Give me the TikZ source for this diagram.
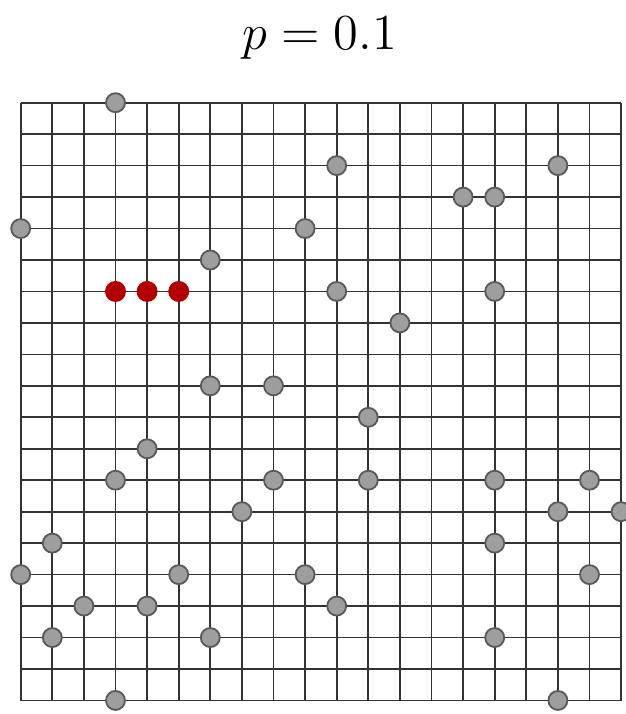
\documentclass[tikz,border=0pt]{standalone}
\begin{document}
\begin{tikzpicture}[x=1pt,y=-1pt,
  gridline/.style={draw=black!80,line width=1.7pt},
  dot/.style={circle,fill=black!38,draw=black!65,line width=1.8pt,minimum size=19pt,inner sep=0pt},
  reddot/.style={circle,fill=red!70!black,draw=none,minimum size=21pt,inner sep=0pt},
  titlestyle/.style={font=\Large,scale=3.5}]
\useasboundingbox (0,0) rectangle (625,714);
\node[titlestyle] (title) at (320,38) {$p = 0.1$};
\foreach \i in {0,...,19}{
  \draw[gridline] ({20.7+31.6*\i},102.7) -- ({20.7+31.6*\i},700.5);
  \draw[gridline] (20.7,{102.7+31.46*\i}) -- (621,{102.7+31.46*\i});
}
\foreach \i/\j [count=\k] in {3/0,10/2,17/2,14/3,15/3,0/4,9/4,6/5,10/6,15/6,12/7,6/9,8/9,11/10,4/11,3/12,8/12,11/12,15/12,18/12,7/13,17/13,19/13,1/14,15/14,0/15,5/15,9/15,18/15,2/16,4/16,10/16,1/17,6/17,15/17,3/19,17/19}{
  \node[dot] (d\k) at ({20.7+31.6*\i},{102.7+31.46*\j}) {};
}
\foreach \i [count=\k] in {3,4,5}{
  \node[reddot] (r\k) at ({20.7+31.6*\i},{102.7+31.46*6}) {};
}
\end{tikzpicture}
\end{document}
